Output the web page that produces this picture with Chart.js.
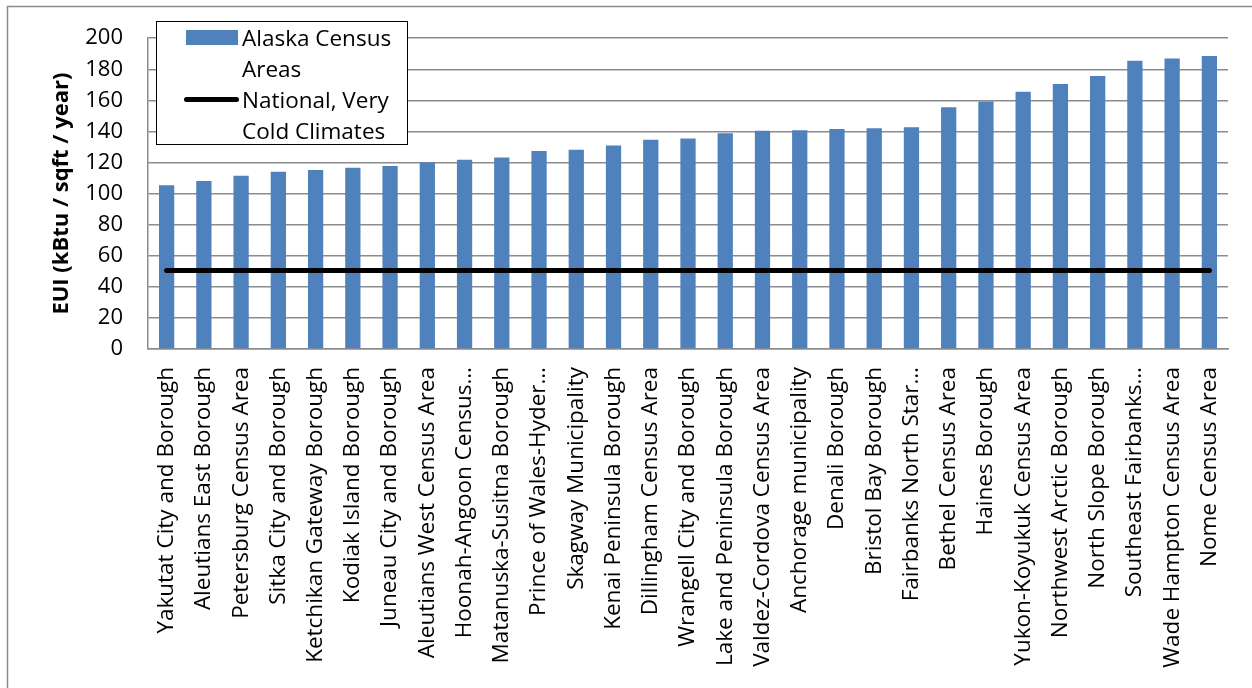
<!DOCTYPE html>
<html>
<head>
<meta charset="utf-8">
<script src="https://cdn.jsdelivr.net/npm/chart.js@4.4.1/dist/chart.umd.min.js"></script>
<style>
  body { margin: 0; background: #fff; }
  #wrap { position: relative; width: 1252px; height: 688px; }
  #legend {
    position: absolute; left: 156px; top: 21px; width: 250px; height: 122px;
    border: 1.5px solid #000; background: #fff;
    font-family: "Open Sans", sans-serif; font-size: 22.5px; line-height: 31px; color: #000;
  }
  .item { position: relative; padding-left: 85px; width: 165px; }
  .sw { position: absolute; }
</style>
</head>
<body>
<div id="wrap">
  <canvas id="euiChart" width="1252" height="688"></canvas>
  <div id="legend"></div>
</div>
<script>
const areaLabels = [
  "Yakutat City and Borough", "Aleutians East Borough", "Petersburg Census Area",
  "Sitka City and Borough", "Ketchikan Gateway Borough", "Kodiak Island Borough",
  "Juneau City and Borough", "Aleutians West Census Area", "Hoonah-Angoon Census…",
  "Matanuska-Susitna Borough", "Prince of Wales-Hyder…", "Skagway Municipality",
  "Kenai Peninsula Borough", "Dillingham Census Area", "Wrangell City and Borough",
  "Lake and Peninsula Borough", "Valdez-Cordova Census Area", "Anchorage municipality",
  "Denali Borough", "Bristol Bay Borough", "Fairbanks North Star…",
  "Bethel Census Area", "Haines Borough", "Yukon-Koyukuk Census Area",
  "Northwest Arctic Borough", "North Slope Borough", "Southeast Fairbanks…",
  "Wade Hampton Census Area", "Nome Census Area"
];
const alaskaEui = [105.3, 108.1, 111.5, 114.1, 115.2, 116.7, 117.7, 120.1, 121.8, 123.3,
  127.4, 128.2, 131.0, 134.6, 135.5, 138.9, 140.4, 140.8, 141.5, 142.1,
  142.7, 155.5, 159.2, 165.6, 170.5, 175.6, 185.5, 187.0, 188.5];
const nationalEui = [50.5, 50.5, 50.5, 50.5, 50.5, 50.5, 50.5, 50.5, 50.5, 50.5,
  50.5, 50.5, 50.5, 50.5, 50.5, 50.5, 50.5, 50.5, 50.5, 50.5,
  50.5, 50.5, 50.5, 50.5, 50.5, 50.5, 50.5, 50.5, 50.5];
const yTicks = [0, 20, 40, 60, 80, 100, 120, 140, 160, 180, 200];

const gridGray = '#8c8c8c';

// fond blanc + cadre gris en haut et a gauche
const framePlugin = {
  id: 'frame',
  beforeDraw(chart) {
    const c = chart.ctx;
    c.save();
    c.fillStyle = '#fff';
    c.fillRect(0, 0, chart.width, chart.height);
    c.strokeStyle = '#8a8a8a';
    c.lineWidth = 1.5;
    c.beginPath();
    c.moveTo(7.5, chart.height);
    c.lineTo(7.5, 6.5);
    c.lineTo(chart.width, 6.5);
    c.stroke();
    c.restore();
  }
};

const ctx = document.getElementById('euiChart').getContext('2d');
const chart = new Chart(ctx, {
  type: 'bar',
  data: {
    labels: areaLabels,
    datasets: [
      {
        type: 'line',
        label: 'National, Very Cold Climates',
        data: nationalEui,
        borderColor: '#000',
        backgroundColor: '#000',
        borderWidth: 5,
        borderCapStyle: 'round',
        pointRadius: 0,
        order: 0
      },
      {
        label: 'Alaska Census Areas',
        data: alaskaEui,
        backgroundColor: '#4f81bd',
        barPercentage: 0.41,
        categoryPercentage: 1,
        order: 1
      }
    ]
  },
  options: {
    responsive: false,
    animation: false,
    layout: { padding: { top: 37, right: 24, left: 0, bottom: 0 } },
    plugins: {
      legend: { display: false },
      tooltip: { enabled: false }
    },
    scales: {
      x: {
        grid: { display: false },
        border: { display: true, color: gridGray, width: 1.5 },
        ticks: {
          autoSkip: false,
          maxRotation: 90,
          minRotation: 90,
          padding: 10,
          color: '#000',
          font: { family: 'Open Sans', size: 22.5 }
        },
        afterFit(scale) { scale.height = 688 - 349; }
      },
      y: {
        min: 0,
        max: 200,
        afterBuildTicks(scale) { scale.ticks = yTicks.map(v => ({ value: v })); },
        grid: { color: gridGray, lineWidth: 1.5, drawTicks: false },
        border: { display: true, color: gridGray, width: 1.5 },
        ticks: {
          padding: 25,
          color: '#000',
          font: { family: 'Open Sans', size: 22 }
        },
        title: {
          display: true,
          text: 'EUI (kBtu / sqft / year)',
          color: '#000',
          font: { family: 'Open Sans', size: 22, weight: 'bold' },
          padding: { top: 49, bottom: 0 }
        },
        afterFit(scale) { scale.width = 148; }
      }
    }
  },
  plugins: [framePlugin]
});

// legende HTML (barres puis ligne)
const legend = document.getElementById('legend');
const legendItems = [chart.data.datasets[1], chart.data.datasets[0]];
legendItems.forEach(ds => {
  const row = document.createElement('div');
  row.className = 'item';
  const sw = document.createElement('div');
  sw.className = 'sw';
  if (ds.type === 'line') {
    sw.style.cssText = 'left:27px;top:13px;width:55px;height:5px;border-radius:3px;background:' + ds.borderColor;
  } else {
    sw.style.cssText = 'left:29px;top:8px;width:52px;height:15px;background:' + ds.backgroundColor;
  }
  row.appendChild(sw);
  const txt = document.createElement('span');
  txt.textContent = ds.label;
  row.appendChild(txt);
  legend.appendChild(row);
});
</script>
</body>
</html>
